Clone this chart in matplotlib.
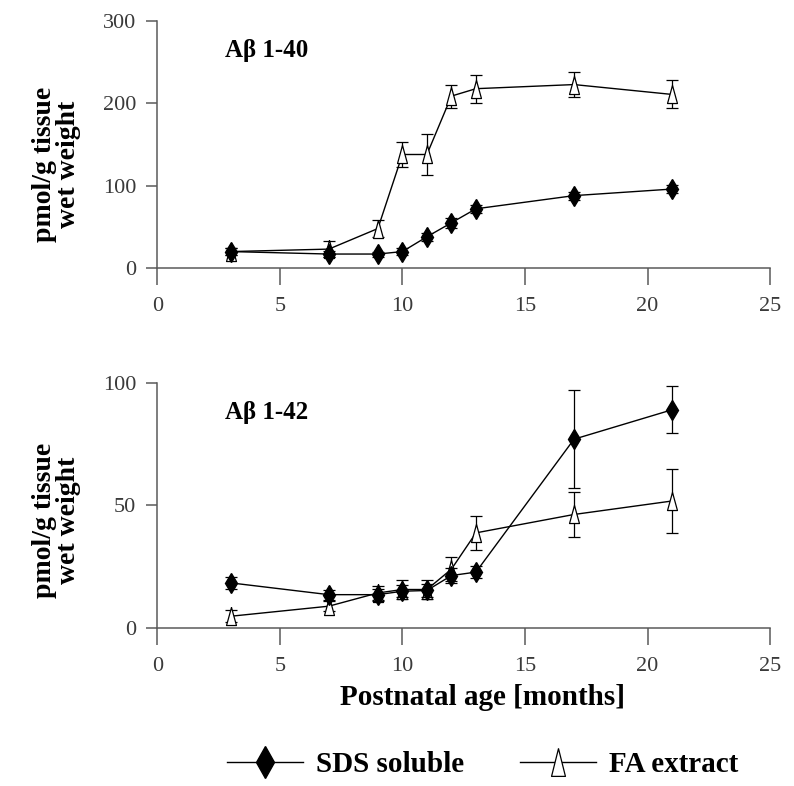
import matplotlib
matplotlib.use("Agg")
import matplotlib.pyplot as plt
from matplotlib.lines import Line2D

plt.rcParams['font.family'] = ['Liberation Serif', 'DejaVu Serif']

ages = [3, 7, 9, 10, 11, 12, 13, 17, 21]

# Abeta 1-40
sds40 = [20, 17, 17, 20, 38, 55, 72, 88, 96]
sds40_err = [4, 4, 3, 4, 5, 6, 5, 5, 5]
fa40 = [20, 23, 48, 138, 138, 209, 218, 223, 211]
fa40_err = [4, 10, 10, 15, 25, 14, 17, 15, 17]

# Abeta 1-42
sds42 = [18.4, 13.6, 13.6, 15, 15.3, 21.4, 22.8, 77, 89]
sds42_err = [2.5, 2, 2.5, 2.5, 2.5, 3, 2.5, 20, 9.6]
fa42 = [4.8, 8.9, 14.3, 15.7, 15.7, 24, 38.8, 46.3, 51.8]
fa42_err = [2.5, 2, 3, 4, 4, 5, 7, 9, 13]

xticks = [0, 5, 10, 15, 20, 25]

TRI = [(0, 1), (-0.55, -1), (0.55, -1), (0, 1)]
TRI_LEG = [(0, 1), (-0.5, -1), (0.5, -1), (0, 1)]
GREY = '#5a5a5a'

fig = plt.figure(figsize=(7.94, 7.86), dpi=100)
ax1 = fig.add_axes([0.198, 0.659, 0.772, 0.314])
ax2 = fig.add_axes([0.198, 0.201, 0.772, 0.312])

def style(ax, ymax, yticks, ylab_y):
    ax.set_xlim(0, 25)
    ax.set_ylim(0, ymax)
    ax.set_xticks(xticks)
    ax.set_yticks(yticks)
    for s in ['top', 'right']:
        ax.spines[s].set_visible(False)
    for s in ['left', 'bottom']:
        ax.spines[s].set_color(GREY)
        ax.spines[s].set_linewidth(1.1)
    ax.tick_params(axis='both', direction='out', width=1.1,
                   color=GREY, labelsize=16, labelcolor='#3a3a3a')
    ax.tick_params(axis='x', length=12, pad=9)
    ax.tick_params(axis='y', length=8, pad=7)
    ax.set_ylabel('pmol/g tissue\nwet weight', fontsize=20, fontweight='bold',
                  linespacing=0.95)
    ax.yaxis.set_label_coords(-0.125, ylab_y)

def plot_series(ax, sds, sds_err, fa, fa_err):
    ax.errorbar(ages, fa, yerr=fa_err, color='black', lw=1.0, marker=TRI,
                ms=13, mfc='white', mec='black', mew=0.9, capsize=4,
                elinewidth=0.9, capthick=0.9, zorder=3)
    ax.errorbar(ages, sds, yerr=sds_err, color='black', lw=1.0, marker='d',
                ms=10, mfc='black', mec='black', capsize=4,
                elinewidth=0.9, capthick=0.9, zorder=4)

plot_series(ax1, sds40, sds40_err, fa40, fa40_err)
plot_series(ax2, sds42, sds42_err, fa42, fa42_err)
style(ax1, 300, [0, 100, 200, 300], 0.42)
style(ax2, 100, [0, 50, 100], 0.44)

ax1.text(2.75, 265, 'A\u03b2 1-40', fontsize=18, fontweight='bold', va='center')
ax2.text(2.75, 88, 'A\u03b2 1-42', fontsize=18, fontweight='bold', va='center')

ax2.set_xlabel('Postnatal age [months]', fontsize=21, fontweight='bold')
ax2.xaxis.set_label_coords(0.53, -0.285)
ax2.xaxis.label.set_va('center')

h1 = Line2D([], [], color='black', lw=1.0, marker='d', ms=16, mfc='black')
h2 = Line2D([], [], color='black', lw=1.0, marker=TRI_LEG, ms=20, mfc='white',
            mec='black', mew=0.9)
fig.legend([h1, h2], ['SDS soluble', 'FA extract'], loc='center',
           bbox_to_anchor=(0.608, 0.027), ncol=2, frameon=False,
           prop={'weight': 'bold', 'size': 21}, handlelength=2.6,
           columnspacing=1.9, handletextpad=0.45)

fig.savefig('out.png', dpi=100)
